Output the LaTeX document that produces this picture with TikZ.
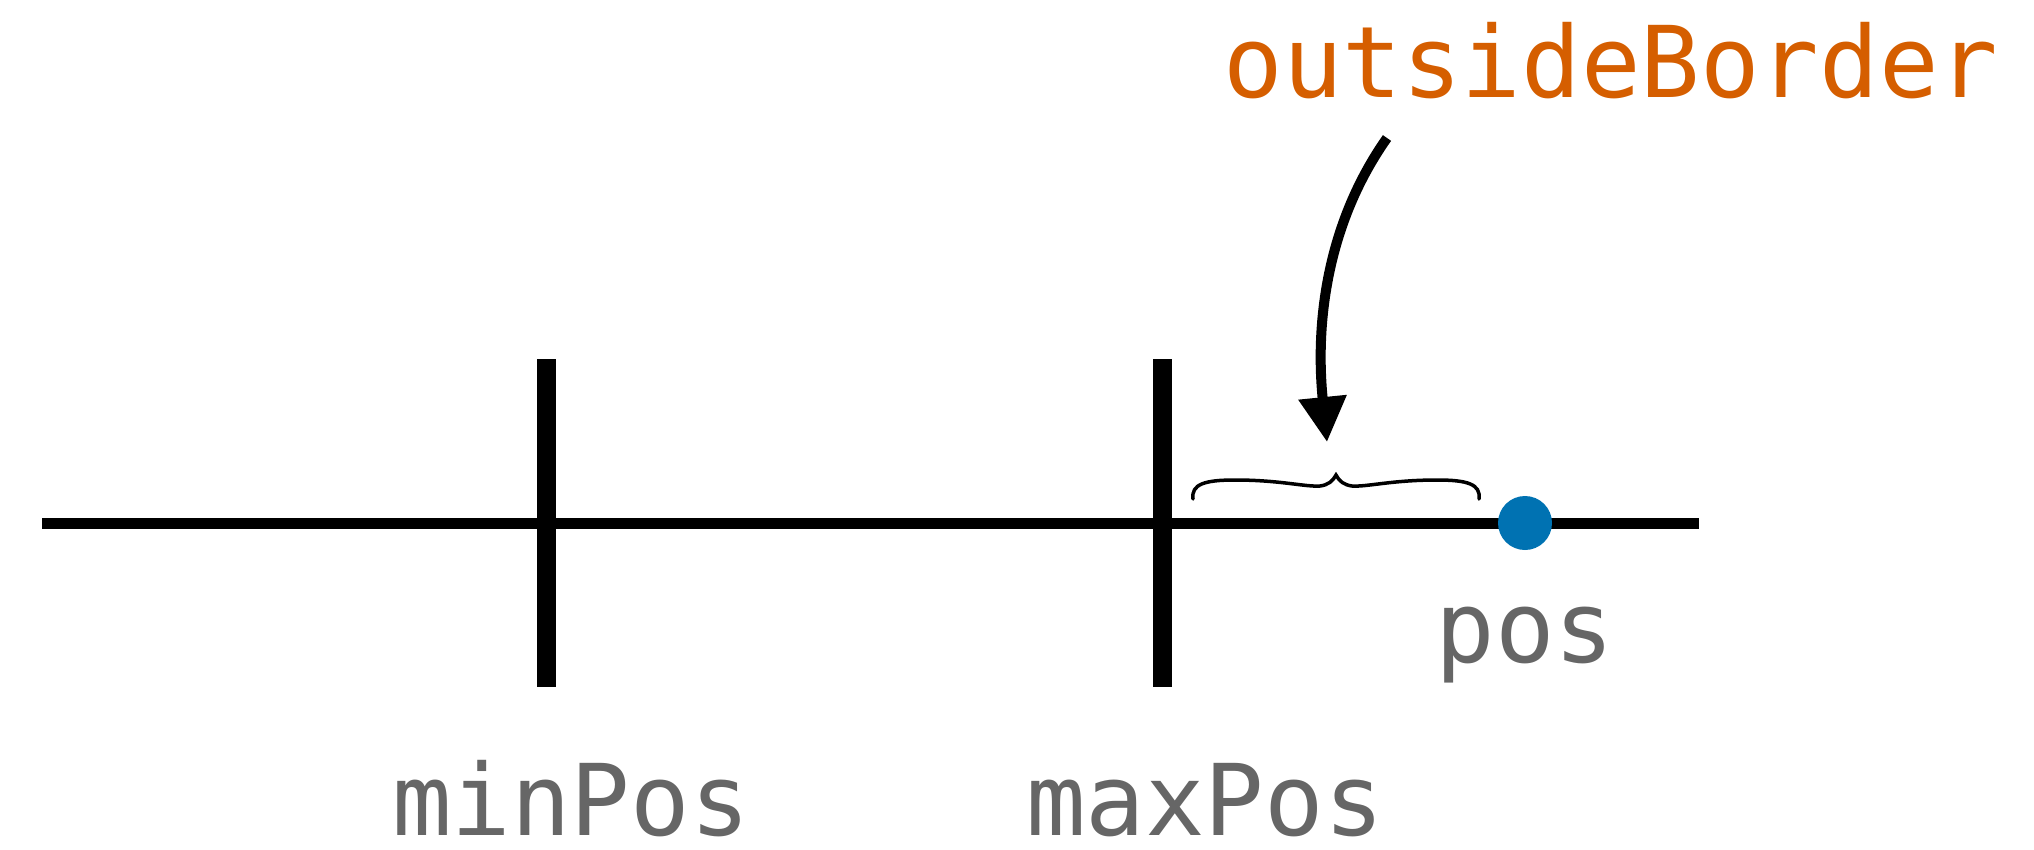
\documentclass[tikz,border=0pt]{standalone}
\usepackage{fontspec}
\newfontfamily\monofont{DejaVu Sans Mono}
\usetikzlibrary{arrows.meta}
\definecolor{labelgray}{HTML}{666666}
\definecolor{vermilion}{HTML}{D55E00}
\definecolor{dotblue}{HTML}{0072B2}
\begin{document}
\begin{tikzpicture}[x=1pt,y=-1pt,
  lbl/.style={inner sep=0pt,outer sep=0pt,anchor=base,font=\monofont\fontsize{99pt}{110pt}\selectfont},
  axisline/.style={line width=11pt,black},
  tickline/.style={line width=19pt,black},
  bracestyle/.style={line width=3.5pt,line cap=round,black},
  callout/.style={line width=10pt,-{Triangle[length=45pt,width=46pt]}}]
\useasboundingbox (0,0) rectangle (2034,849);
% axis
\coordinate (axL) at (42,523);
\coordinate (axR) at (1699,523);
\draw[axisline] (axL) -- (axR);
% ticks
\coordinate (minT) at (546.5,359);
\coordinate (minB) at (546.5,687);
\coordinate (maxT) at (1162.5,359);
\coordinate (maxB) at (1162.5,687);
\draw[tickline] (minT) -- (minB);
\draw[tickline] (maxT) -- (maxB);
% brace
\coordinate (brL) at (1193,499);
\coordinate (brM) at (1336,475);
\coordinate (brR) at (1479,499);
\draw[bracestyle] (brL) .. controls (1191,484) and (1205,480) .. (1235,480)
  .. controls (1280,480) and (1305,487) .. (1320,486)
  .. controls (1328,485) and (1333,481) .. (brM)
  .. controls (1339,481) and (1344,485) .. (1352,486)
  .. controls (1367,487) and (1392,480) .. (1437,480)
  .. controls (1467,480) and (1481,484) .. (brR);
% dot
\node[circle,fill=dotblue,minimum size=54pt,inner sep=0pt] (dot) at (1525,523) {};
% labels
\node[lbl,text=labelgray,text depth=0pt] (minlbl) at (571,835) {minPos};
\node[lbl,text=labelgray,text depth=0pt] (maxlbl) at (1205,835) {maxPos};
\node[lbl,text=labelgray] (poslbl) at (1525,662) {pos};
\node[lbl,text=vermilion] (outlbl) at (1611,97) {outsideBorder};
% arrow
\coordinate (arS) at (1387,138);
\coordinate (arE) at (1327,442);
\draw[callout] (arS) .. controls (1327,223) and (1315,322) .. (arE);
\end{tikzpicture}
\end{document}
